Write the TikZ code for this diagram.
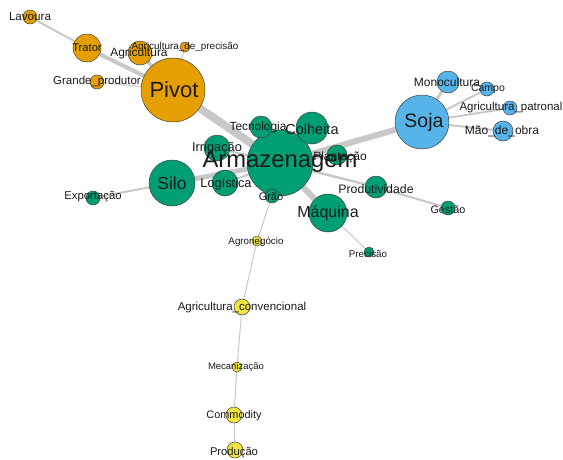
\documentclass[tikz,border=0pt]{standalone}
\usepackage{fontspec}
\setmainfont{Liberation Sans}
\pgfdeclarelayer{background}
\pgfdeclarelayer{foreground}
\pgfsetlayers{background,main,foreground}
\definecolor{cOr}{HTML}{E69F00}
\definecolor{cBl}{HTML}{56B4E9}
\definecolor{cGr}{HTML}{009E73}
\definecolor{cYe}{HTML}{F0E442}
\definecolor{cEd}{HTML}{C8C8C8}
\definecolor{cTx}{HTML}{1A1A1A}
\tikzset{
  vtx/.style={circle, draw=black!75, line width=0.5pt, inner sep=0pt, minimum size=#1},
  or/.style={vtx=#1, fill=cOr},
  bl/.style={vtx=#1, fill=cBl},
  gr/.style={vtx=#1, fill=cGr},
  ye/.style={vtx=#1, fill=cYe},
  lbl/.style={inner sep=0pt, text=cTx, font=\fontsize{#1}{#1}\selectfont},
  edg/.style={draw=cEd, line width=#1}
}
\begin{document}
\begin{tikzpicture}[x=1pt,y=-1pt]
\useasboundingbox (0,0) rectangle (563,459);
% vertices
\node[or=14pt] (lav) at (30,17) {};
\node[or=28pt] (tra) at (87,48) {};
\node[or=24pt] (agr) at (140,53) {};
\node[or=10pt] (adp) at (185,47) {};
\node[or=14pt] (gpr) at (97,82) {};
\node[or=64pt] (piv) at (173,90) {};
\node[bl=54pt] (soj) at (422,122) {};
\node[bl=22pt] (mon) at (448,82) {};
\node[bl=14pt] (cam) at (487,89) {};
\node[bl=14pt] (apa) at (510,108) {};
\node[bl=20pt] (mao) at (503,131) {};
\node[gr=66pt] (arm) at (280,163) {};
\node[gr=22pt] (tec) at (261,127) {};
\node[gr=32pt] (col) at (312,128) {};
\node[gr=26pt] (irr) at (217,148) {};
\node[gr=20pt] (pla) at (337,155) {};
\node[gr=26pt] (log) at (225,183) {};
\node[gr=46pt] (sil) at (172,183) {};
\node[gr=14pt] (exp) at (93,198) {};
\node[gr=14pt] (gra) at (272,196) {};
\node[gr=22pt] (pro) at (376,187) {};
\node[gr=38pt] (maq) at (328,213) {};
\node[gr=14pt] (ges) at (448,208) {};
\node[gr=10pt] (pre) at (369,252) {};
\node[ye=10pt] (agn) at (257,241) {};
\node[ye=16pt] (acv) at (242,307) {};
\node[ye=10pt] (mec) at (237,367) {};
\node[ye=16pt] (com) at (234,415) {};
\node[ye=16pt] (prd) at (235,450) {};
% edges
\begin{pgfonlayer}{background}
\draw[edg=2pt] (lav) -- (tra);
\draw[edg=4pt] (tra) -- (piv);
\draw[edg=3.5pt] (agr) -- (piv);
\draw[edg=1pt] (adp) -- (piv);
\draw[edg=1pt] (gpr) -- (piv);
\draw[edg=8pt] (piv) -- (arm);
\draw[edg=6pt] (soj) -- (arm);
\draw[edg=3pt] (soj) -- (mon);
\draw[edg=2pt] (soj) -- (cam);
\draw[edg=2pt] (soj) -- (apa);
\draw[edg=2pt] (soj) -- (mao);
\draw[edg=5pt] (sil) -- (arm);
\draw[edg=2pt] (sil) -- (exp);
\draw[edg=6pt] (arm) -- (maq);
\draw[edg=2.5pt] (arm) -- (pro);
\draw[edg=2pt] (pro) -- (ges);
\draw[edg=1pt] (maq) -- (pre);
\draw[edg=2pt] (arm) -- (tec);
\draw[edg=2pt] (arm) -- (col);
\draw[edg=2pt] (arm) -- (irr);
\draw[edg=2pt] (arm) -- (pla);
\draw[edg=2pt] (arm) -- (log);
\draw[edg=2pt] (arm) -- (gra);
\draw[edg=1pt] (gra) -- (agn);
\draw[edg=1pt] (agn) -- (acv);
\draw[edg=1pt] (acv) -- (mec);
\draw[edg=1pt] (mec) -- (com);
\draw[edg=1pt] (com) -- (prd);
\end{pgfonlayer}
% labels
\begin{pgfonlayer}{foreground}
\node[lbl=11.6pt] (tlav) at (lav) {Lavoura};
\node[lbl=11.2pt] (ttra) at (tra) {Trator};
\node[lbl=12pt] (tagr) at (139,53) {Agricultura};
\node[lbl=9.9pt] (tadp) at (185,47) {Agricultura\_de\_precisão};
\node[lbl=11.5pt] (tgpr) at (97,82) {Grande\_produtor};
\node[lbl=22pt] (tpiv) at (174,90) {Pivot};
\node[lbl=19.5pt] (tsoj) at (424,122) {Soja};
\node[lbl=12pt] (tmon) at (447,82) {Monocultura};
\node[lbl=10.5pt] (tcam) at (488,89) {Campo};
\node[lbl=11.5pt] (tapa) at (511,108) {Agricultura\_patronal};
\node[lbl=12pt] (tmao) at (502,131) {Mão\_de\_obra};
\node[lbl=23.8pt] (tarm) at (280,162) {Armazenagem};
\node[lbl=11.9pt] (ttec) at (258,127) {Tecnologia};
\node[lbl=14.5pt] (tcol) at (312,129) {Colheita};
\node[lbl=12.8pt] (tirr) at (217,148) {Irrigação};
\node[lbl=12.8pt] (tlog) at (226,184) {Logística};
\node[lbl=12pt] (tpla) at (340,157) {Plantação};
\node[lbl=17.4pt] (tsil) at (172,183) {Silo};
\node[lbl=11.3pt] (texp) at (93,197) {Exportação};
\node[lbl=11pt] (tgra) at (271,197) {Grão};
\node[lbl=12.3pt] (tpro) at (376,189) {Produtividade};
\node[lbl=16pt] (tmaq) at (328,213) {Máquina};
\node[lbl=10.8pt] (tges) at (448,210) {Gestão};
\node[lbl=9.8pt] (tpre) at (368,254) {Precisão};
\node[lbl=9.8pt] (tagn) at (256,242) {Agronegócio};
\node[lbl=11.5pt] (tacv) at (242,308) {Agricultura\_convencional};
\node[lbl=9.5pt] (tmec) at (236,367) {Mecanização};
\node[lbl=10.9pt] (tcom) at (234,416) {Commodity};
\node[lbl=11.2pt] (tprd) at (234,453) {Produção};
\end{pgfonlayer}
\end{tikzpicture}
\end{document}
